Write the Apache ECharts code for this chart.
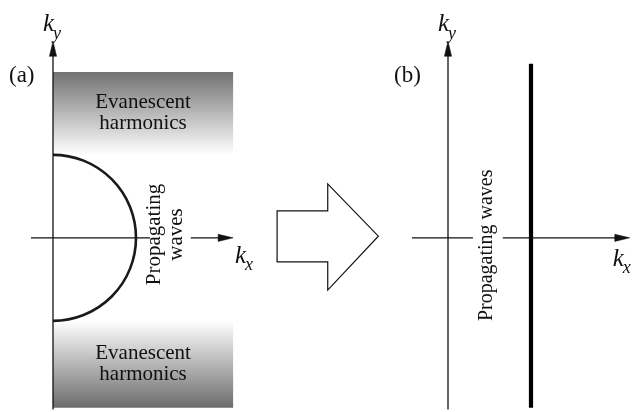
<!DOCTYPE html>
<html>
<head>
<meta charset="utf-8">
<script src="https://cdn.jsdelivr.net/npm/echarts@6/dist/echarts.min.js"></script>
<style>
  html, body { margin: 0; padding: 0; background: #fff; }
  #chart { width: 632px; height: 412px; }
</style>
</head>
<body>
<div id="chart"></div>
<script>
// All wavenumbers are in units of the free-space wavenumber k0.
const panelLabels = ['(a)', '(b)'];

// Panel (a): propagating circle |k| = k0 and evanescent ky bands
const circleRadius = 1;
const evanescentBands = [[1, 2], [-2.05, -1]];   // [ky from, ky to]
const bandKxMax = 2.17;
const bandText = 'Evanescent\nharmonics';
const circleText = 'Propagating\nwaves';

// Panel (b): the propagating region collapses to the line kx = k0
const cutoffKx = 1;
const cutoffKyRange = [-2.05, 2.1];
const lineText = 'Propagating waves';

// Axis extents (k0 units), with the break left for the rotated label
const kyAxisRange = [-2.07, 2.37];
const kxAxisA = [[-0.265, 1.17], [1.66, 2.17]];
const kxAxisB = [[-0.434, 0.30], [0.66, 2.19]];

const SERIF = '"Liberation Serif", "Times New Roman", serif';
const INK = '#111';

function arrowHead(tip, dir, len, half) {
  // filled triangle, dir is a unit vector in pixel space
  const bx = tip[0] - dir[0] * len, by = tip[1] - dir[1] * len;
  const nx = -dir[1], ny = dir[0];
  return {
    type: 'polygon',
    shape: { points: [tip, [bx + nx * half, by + ny * half], [bx - nx * half, by - ny * half]] },
    style: { fill: INK, stroke: INK, lineWidth: 0.5 }
  };
}

function seg(p, q, w, color) {
  return {
    type: 'line',
    shape: { x1: p[0], y1: p[1], x2: q[0], y2: q[1] },
    style: { stroke: color || INK, lineWidth: w || 1.3 }
  };
}

function txt(p, text, extra) {
  return {
    type: 'text',
    x: p[0], y: p[1],
    rotation: (extra && extra.rotation) || 0,
    style: Object.assign({
      text: text,
      fill: INK,
      font: '21px ' + SERIF,
      align: 'center',
      verticalAlign: 'middle',
      lineHeight: 21
    }, extra && extra.style)
  };
}

// k with an italic subscript, anchored at the top-left of the "k"
function kLabel(p, sub) {
  return [
    txt([p[0], p[1]], 'k', { style: { font: 'italic 25px ' + SERIF, align: 'left', verticalAlign: 'top' } }),
    txt([p[0] + 10, p[1] + 9], sub, { style: { font: 'italic 18px ' + SERIF, align: 'left', verticalAlign: 'top' } })
  ];
}

function axesFor(api, kxSegments, kxLabelOffset, panelLabelPos, panelLabel) {
  const c = (x, y) => api.coord([x, y]);
  const out = [];
  // ky axis
  const yTop = c(0, kyAxisRange[1]);
  out.push(seg(c(0, kyAxisRange[0]), [yTop[0], yTop[1] + 10]));
  out.push(arrowHead(yTop, [0, -1], 15, 3.6));
  // kx axis in pieces
  kxSegments.forEach(function (s, i) {
    const a = c(s[0], 0), b = c(s[1], 0);
    if (i === kxSegments.length - 1) {
      out.push(seg(a, [b[0] - 10, b[1]]));
      out.push(arrowHead(b, [1, 0], 15, 3.6));
    } else {
      out.push(seg(a, b));
    }
  });
  const xTip = c(kxSegments[kxSegments.length - 1][1], 0);
  out.push.apply(out, kLabel([yTop[0] - 10, yTop[1] - 27], 'y'));
  out.push.apply(out, kLabel([xTip[0] + kxLabelOffset[0], xTip[1] + kxLabelOffset[1]], 'x'));
  out.push(txt(panelLabelPos(c), panelLabel, { style: { font: '23px ' + SERIF, align: 'left' } }));
  return out;
}

const chart = echarts.init(document.getElementById('chart'), null, { renderer: 'canvas' });

const option = {
  animation: false,
  backgroundColor: '#fff',
  grid: [
    { left: 11.5, top: 30.5, width: 249, height: 381.8 },
    { left: 406.5, top: 30.5, width: 224.1, height: 381.8 }
  ],
  xAxis: [
    { type: 'value', gridIndex: 0, min: -0.5, max: 2.5, show: false },
    { type: 'value', gridIndex: 1, min: -0.5, max: 2.2, show: false }
  ],
  yAxis: [
    { type: 'value', gridIndex: 0, min: -2.1, max: 2.5, show: false },
    { type: 'value', gridIndex: 1, min: -2.1, max: 2.5, show: false }
  ],
  series: [
    // Panel (a)
    {
      type: 'custom',
      xAxisIndex: 0, yAxisIndex: 0,
      clip: false,
      silent: true,
      data: [[0, 0]],
      renderItem: function (params, api) {
        const c = (x, y) => api.coord([x, y]);
        const children = [];
        // evanescent bands, darker away from the circle
        evanescentBands.forEach(function (b) {
          const p1 = c(0, b[1]), p2 = c(bandKxMax, b[0]);
          const upper = b[0] >= 0;
          children.push({
            type: 'rect',
            shape: { x: p1[0], y: p1[1], width: p2[0] - p1[0], height: p2[1] - p1[1] },
            style: {
              fill: new echarts.graphic.LinearGradient(0, 0, 0, 1, upper
                ? [{ offset: 0, color: '#727272' }, { offset: 1, color: '#ffffff' }]
                : [{ offset: 0, color: '#ffffff' }, { offset: 1, color: '#6c6c6c' }])
            }
          });
          children.push(txt(c(bandKxMax / 2, (b[0] + b[1]) / 2), bandText));
        });
        // propagating half circle
        const o = c(0, 0);
        const r = c(circleRadius, 0)[0] - o[0];
        children.push({
          type: 'arc',
          shape: { cx: o[0], cy: o[1], r: r, startAngle: -Math.PI / 2, endAngle: Math.PI / 2 },
          style: { stroke: '#1a1a1a', lineWidth: 2.6, fill: null }
        });
        children.push(txt(c(1.36, 0.04), circleText, { rotation: Math.PI / 2, style: { lineHeight: 22 } }));
        children.push.apply(children, axesFor(api, kxAxisA, [2, 8], function (cc) {
          const q = cc(0, 2); return [q[0] - 44, q[1] + 4];
        }, panelLabels[0]));
        // hollow arrow from (a) to (b)
        const A = [[2.70, 0.325], [3.31, 0.325], [3.31, 0.65], [3.92, 0.02],
                   [3.31, -0.63], [3.31, -0.29], [2.70, -0.29]].map(function (p) { return c(p[0], p[1]); });
        children.push({
          type: 'polygon',
          shape: { points: A },
          style: { fill: '#fff', stroke: INK, lineWidth: 1.2 }
        });
        return { type: 'group', children: children };
      }
    },
    // Panel (b)
    {
      type: 'custom',
      xAxisIndex: 1, yAxisIndex: 1,
      clip: false,
      silent: true,
      data: [[0, 0]],
      renderItem: function (params, api) {
        const c = (x, y) => api.coord([x, y]);
        const children = [];
        children.push(seg(c(cutoffKx, cutoffKyRange[0]), c(cutoffKx, cutoffKyRange[1]), 4.2, '#000'));
        children.push(txt(c(0.47, -0.09), lineText, { rotation: Math.PI / 2, style: { font: '20px ' + SERIF } }));
        children.push.apply(children, axesFor(api, kxAxisB, [-17, 11], function (cc) {
          const q = cc(0, 2); return [q[0] - 54, q[1] + 4];
        }, panelLabels[1]));
        return { type: 'group', children: children };
      }
    }
  ]
};

chart.setOption(option);
</script>
</body>
</html>
